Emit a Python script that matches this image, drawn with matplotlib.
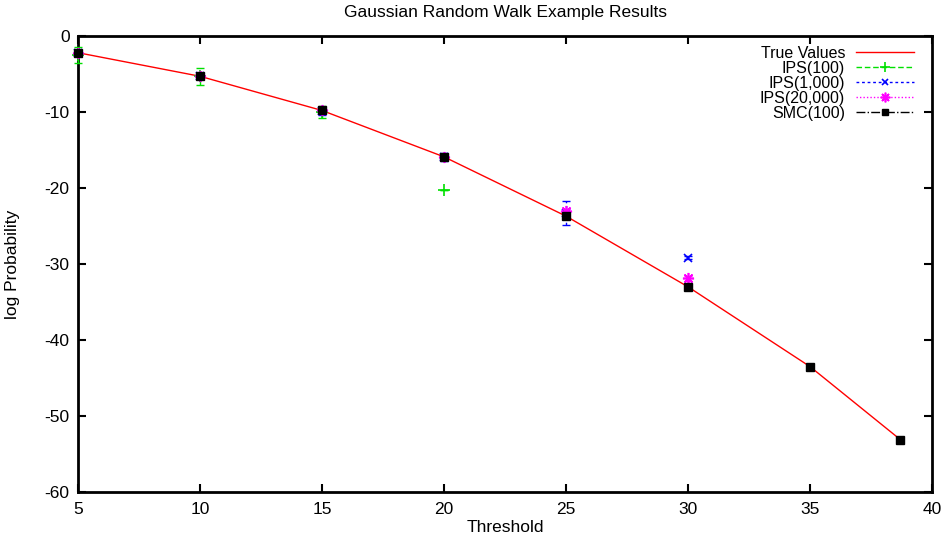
import matplotlib
matplotlib.use("Agg")
import matplotlib.pyplot as plt
from matplotlib.lines import Line2D

plt.rcParams['font.family'] = ['Liberation Sans', 'DejaVu Sans']
plt.rcParams['axes.unicode_minus'] = False

# Data
thresholds = [5, 10, 15, 20, 25, 30, 35, 38.7]
true_values = [-2.2, -5.3, -9.8, -15.9, -23.7, -33.0, -43.5, -53.1]

ips100_x = [5, 10, 15, 20]
ips100_y = [-2.5, -5.3, -10.0, -20.3]
ips100_err = [1.1, 1.1, 0.8, 0.0]

ips1000_x = [5, 10, 15, 20, 25, 30]
ips1000_y = [-2.2, -5.3, -9.9, -15.9, -23.3, -29.2]
ips1000_err = [0.3, 0.3, 0.5, 0.5, 1.6, 0.2]

ips20000_x = [5, 10, 15, 20, 25, 30]
ips20000_y = [-2.2, -5.3, -9.8, -15.9, -23.0, -31.9]
ips20000_err = [0.1, 0.2, 0.4, 0.3, 0.3, 0.3]

smc_x = [5, 10, 15, 20, 25, 30, 35, 38.7]
smc_y = [-2.2, -5.3, -9.8, -15.9, -23.7, -33.0, -43.5, -53.1]
smc_err = [0.2, 0.2, 0.2, 0.2, 0.3, 0.3, 0.2, 0.2]

labels = ["True Values", "IPS(100)", "IPS(1,000)", "IPS(20,000)", "SMC(100)"]
colors = ["#ff0000", "#00e000", "#0000ff", "#ff00ff", "#000000"]

FS = 12.5
W, H = 947, 537
fig = plt.figure(figsize=(W / 100, H / 100), dpi=100)
L, R, T, B = 78, 932, 36, 492
ax = fig.add_axes([L / W, 1 - B / H, (R - L) / W, (B - T) / H])

ax.plot(thresholds, true_values, color=colors[0], lw=1.0, zorder=2)

ekw = dict(fmt='none', capsize=3, elinewidth=1.0, capthick=1.0)
e1 = ax.errorbar(ips100_x, ips100_y, yerr=ips100_err, ecolor=colors[1], zorder=3, **ekw)
e1[2][0].set_linestyle((0, (4, 2)))
ax.plot(ips100_x, ips100_y, ls='none', marker='+', ms=8, mew=1.2, color=colors[1], zorder=3,
        clip_on=False)

e2 = ax.errorbar(ips1000_x, ips1000_y, yerr=ips1000_err, ecolor=colors[2], zorder=3, **ekw)
e2[2][0].set_linestyle((0, (2, 2)))
ax.plot(ips1000_x, ips1000_y, ls='none', marker='x', ms=6, mew=1.2, color=colors[2], zorder=3,
        clip_on=False)

e3 = ax.errorbar(ips20000_x, ips20000_y, yerr=ips20000_err, ecolor=colors[3], zorder=3, **ekw)
e3[2][0].set_linestyle((0, (1, 1.5)))
ax.plot(ips20000_x, ips20000_y, ls='none', marker=(8, 2, 0), ms=8, mew=1.2, color=colors[3],
        zorder=3, clip_on=False)

e4 = ax.errorbar(smc_x, smc_y, yerr=smc_err, ecolor=colors[4], zorder=4, **ekw)
ax.plot(smc_x, smc_y, ls='none', marker='s', ms=6, color=colors[4], zorder=5, clip_on=False)

for cont in (e1, e2, e3, e4):
    for art in list(cont[1]) + list(cont[2]):
        art.set_clip_on(False)

ax.set_xlim(5, 40)
ax.set_ylim(-60, 0)
ax.set_xticks([5, 10, 15, 20, 25, 30, 35, 40])
ax.set_yticks([0, -10, -20, -30, -40, -50, -60])
ax.tick_params(direction='in', length=6, width=1.5, top=True, right=True, labelsize=FS, pad=6)
ax.tick_params(axis='x', pad=7)
for s in ax.spines.values():
    s.set_linewidth(2)

fig.text((L + R) / 2 / W, 1 - 13 / H, "Gaussian Random Walk Example Results", fontsize=FS,
         ha='center', va='center')
fig.text((L + R) / 2 / W, 1 - 527 / H, "Threshold", fontsize=FS, ha='center', va='center')
fig.text(13 / W, 1 - ((T + B) / 2) / H, "log Probability", fontsize=FS, ha='center',
         va='center', rotation=90)

handles = [
    Line2D([], [], color=colors[0], lw=1.0),
    Line2D([], [], color=colors[1], lw=1.0, ls=(0, (4, 2)), marker='+', ms=7, mew=1.2),
    Line2D([], [], color=colors[2], lw=1.0, ls=(0, (2, 2)), marker='x', ms=5, mew=1.2),
    Line2D([], [], color=colors[3], lw=1.0, ls=(0, (1, 1.5)), marker=(8, 2, 0), ms=7, mew=1.2),
    Line2D([], [], color=colors[4], lw=1.0, ls='-.', marker='s', ms=5),
]
leg = ax.legend(handles, labels, loc='upper right', frameon=False, markerfirst=False,
                prop={'size': 11.5}, handlelength=3.6, handletextpad=0.7, labelspacing=0.0,
                borderaxespad=0.2, numpoints=1, bbox_to_anchor=(0.99, 1.0))
for t in leg.get_texts():
    t.set_ha('right')

fig.savefig("out.png", dpi=100)
